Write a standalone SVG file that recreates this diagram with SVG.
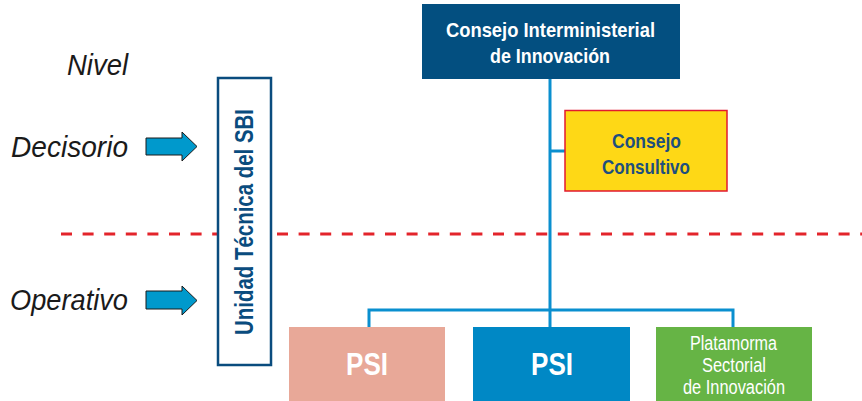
<svg xmlns="http://www.w3.org/2000/svg" width="862" height="401" viewBox="0 0 862 401">
<style>
.lvl{font-family:"Liberation Sans",Arial,sans-serif;font-style:italic;font-size:30px;fill:#1a1a1a}
.b{font-family:"Liberation Sans",Arial,sans-serif;font-weight:bold;text-anchor:middle}
.r{font-family:"Liberation Sans",Arial,sans-serif;text-anchor:middle}
.conn{stroke:#0a8fcf;stroke-width:3;fill:none}
.arrow{fill:#0099cc;stroke:#1a1a1a;stroke-width:1}
</style>
<rect width="862" height="401" fill="#ffffff"/>
<g id="levels">
<text class="lvl" x="67" y="75" textLength="61" lengthAdjust="spacingAndGlyphs">Nivel</text>
<text class="lvl" x="11" y="157" textLength="117" lengthAdjust="spacingAndGlyphs">Decisorio</text>
<text class="lvl" x="10" y="310" textLength="118" lengthAdjust="spacingAndGlyphs">Operativo</text>
<polygon class="arrow" points="146,138 182,138 182,132 197,146.5 182,161 182,155 146,155"/>
<polygon class="arrow" points="146,291 182,291 182,286 197,300.5 182,315 182,309 146,309"/>
</g>
<line x1="61" y1="234" x2="862" y2="234" stroke="#e3242b" stroke-width="3" stroke-dasharray="11 10.6"/>
<g id="connectors">
<line class="conn" x1="550" y1="79" x2="550" y2="327"/>
<line class="conn" x1="550" y1="151" x2="565" y2="151"/>
<polyline class="conn" points="369,327 369,310 733,310 733,327"/>
</g>
<g id="unidad">
<rect x="218" y="78" width="53" height="287" fill="#ffffff" stroke="#0a4c7e" stroke-width="2.5"/>
<text class="b" transform="translate(253,222) rotate(-90)" font-size="25" fill="#0a4c7e" textLength="226" lengthAdjust="spacingAndGlyphs">Unidad Técnica del SBI</text>
</g>
<g id="consejo-interministerial">
<rect x="422" y="4" width="258" height="75" fill="#034f80"/>
<text class="b" x="550.5" y="37" font-size="21" fill="#ffffff" textLength="209" lengthAdjust="spacingAndGlyphs">Consejo Interministerial</text>
<text class="b" x="550" y="63" font-size="21" fill="#ffffff" textLength="120" lengthAdjust="spacingAndGlyphs">de Innovación</text>
</g>
<g id="consejo-consultivo">
<rect x="565" y="110.5" width="162" height="80.5" fill="#fed816" stroke="#e2192f" stroke-width="1.5"/>
<text class="b" x="646.5" y="148" font-size="21" fill="#1e4f7d" textLength="69" lengthAdjust="spacingAndGlyphs">Consejo</text>
<text class="b" x="646" y="174" font-size="21" fill="#1e4f7d" textLength="88" lengthAdjust="spacingAndGlyphs">Consultivo</text>
</g>
<g id="psi-1">
<rect x="289" y="327" width="156" height="74" fill="#e8a898"/>
<text class="b" x="367" y="375" font-size="32" fill="#ffffff" textLength="42" lengthAdjust="spacingAndGlyphs">PSI</text>
</g>
<g id="psi-2">
<rect x="473" y="327" width="157" height="74" fill="#0088c5"/>
<text class="b" x="552" y="375" font-size="32" fill="#ffffff" textLength="42" lengthAdjust="spacingAndGlyphs">PSI</text>
</g>
<g id="plataforma">
<rect x="656" y="327" width="156" height="74" fill="#66b445"/>
<text class="r" x="733.5" y="350" font-size="20" fill="#ffffff" textLength="87" lengthAdjust="spacingAndGlyphs">Platamorma</text>
<text class="r" x="734" y="372" font-size="20" fill="#ffffff" textLength="64" lengthAdjust="spacingAndGlyphs">Sectorial</text>
<text class="r" x="734" y="394" font-size="20" fill="#ffffff" textLength="102" lengthAdjust="spacingAndGlyphs">de Innovación</text>
</g>
</svg>
